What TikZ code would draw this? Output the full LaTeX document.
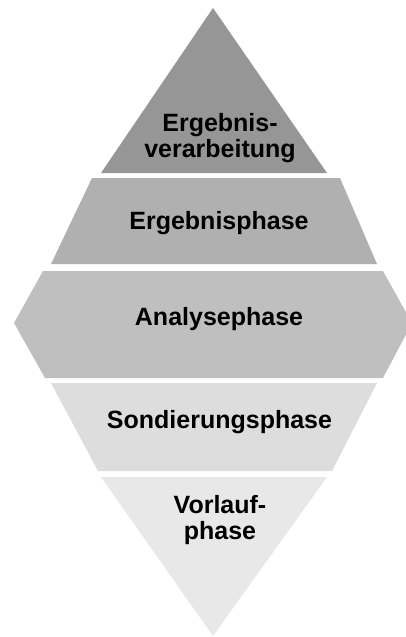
\documentclass[tikz,border=0pt]{standalone}
\usepackage{fontspec}
\setmainfont{Liberation Sans}
\definecolor{bandone}{gray}{0.59}
\definecolor{bandtwo}{gray}{0.69}
\definecolor{bandthree}{gray}{0.75}
\definecolor{bandfour}{gray}{0.865}
\definecolor{bandfive}{gray}{0.91}
\begin{document}
\begin{tikzpicture}[x=1pt,y=-1pt,
	phase/.style={align=center,inner sep=0pt,font=\fontsize{25}{26}\selectfont\bfseries}]
	\useasboundingbox (0,0) rectangle (405,637);
	% bands of the diamond
	\fill[bandone] (213,8)--(327,173)--(101,173)--cycle; %top
	\fill[bandtwo] (92,178)--(340,178)--(377,264)--(51,264)--cycle;
	\fill[bandthree] (43,271)--(383,271)--(412,323)--(383,378)--(45,378)--(14,323)--cycle; %middle
	\fill[bandfour] (51,383)--(377,383)--(332,471)--(98,471)--cycle;
	\fill[bandfive] (101,477)--(327,477)--(213,636)--cycle; %bottom
	% phase labels
	\node[phase] at (220,138) (verarbeitung) {Ergebnis-\\verarbeitung};
	\node[phase] at (219,223.5) (ergebnis) {Ergebnisphase};
	\node[phase] at (219,319.5) (analyse) {Analysephase};
	\node[phase] at (219.5,422.5) (sondierung) {Sondierungsphase};
	\node[phase] at (220,520.5) (vorlauf) {Vorlauf-\\phase};
\end{tikzpicture}
\end{document}
